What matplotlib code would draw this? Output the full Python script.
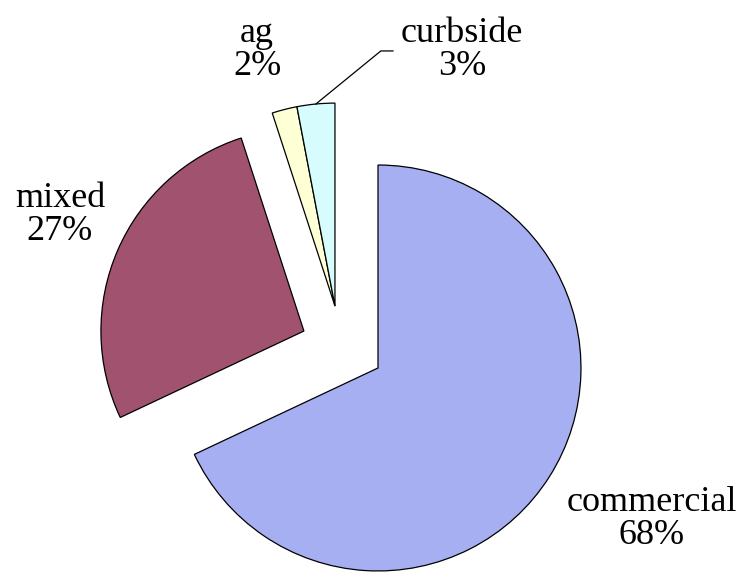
import matplotlib

matplotlib.use("Agg")
import matplotlib.pyplot as plt
import numpy as np

# share of collected material by source
sources = ["commercial", "mixed", "ag", "curbside"]
shares = [68, 27, 2, 3]
colors = ["#a6aff2", "#a0526f", "#ffffd6", "#d6fcfd"]

# wedge centre offsets (radius units) - mixed pulled left, the two slivers up
offsets = [(0.0, 0.0), (-0.365, 0.182), (-0.212, 0.305), (-0.212, 0.305)]
# label centres (radius units)
label_pos = [(1.35, -0.745), (-1.567, 0.755), (-0.596, 1.567), (0.414, 1.567)]

plt.rcParams["font.family"] = ["Liberation Serif", "DejaVu Serif"]

fig = plt.figure(figsize=(7.43, 5.74), dpi=100)
ax = fig.add_axes([0, 0, 1, 1])

wedges, _ = ax.pie(shares, colors=colors, startangle=90, counterclock=False,
                   wedgeprops=dict(edgecolor="black", linewidth=0.9))
for w, (dx, dy) in zip(wedges, offsets):
    w.set_center((dx, dy))

for name, val, (lx, ly) in zip(sources, shares, label_pos):
    ax.text(lx, ly, f"{name}\n{val}%", ha="center", va="center",
            fontsize=26, linespacing=1.0, color="black")

# leader line for curbside: from arc mid-point to just left of its label
cw = wedges[3]
mid = np.deg2rad((cw.theta1 + cw.theta2) / 2)
cx, cy = cw.center
p0 = (cx + np.cos(mid), cy + np.sin(mid))
lx, ly = label_pos[3]
ax.plot([p0[0], lx - 0.40, lx - 0.34], [p0[1], ly - 0.005, ly - 0.005],
        color="black", lw=0.9)

ax.set_xlim(-1.862, 1.798)
ax.set_ylim(-1.015, 1.813)
ax.set_aspect("equal")
ax.axis("off")

fig.savefig("out.png", dpi=100)
